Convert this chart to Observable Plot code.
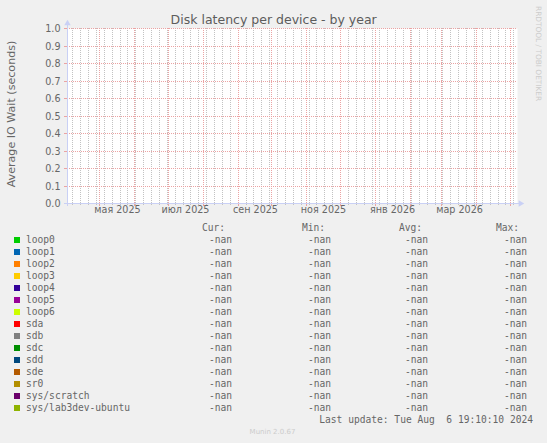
<!DOCTYPE html>
<html><head><meta charset="utf-8">
<script src="https://cdn.jsdelivr.net/npm/d3@7"></script>
<script src="https://cdn.jsdelivr.net/npm/@observablehq/plot@0.6"></script>
<style>
html,body{margin:0;padding:0;background:#f0f0f0;}
#wrap{position:relative;width:547px;height:443px;overflow:hidden;background:#f0f0f0;font-family:"DejaVu Sans",sans-serif;color:#666;}
#wrap svg{position:absolute;left:0;top:0;}
.abs{position:absolute;white-space:pre;}
.mono{font-family:"DejaVu Sans Mono",monospace;font-size:9.6px;line-height:12px;height:12px;color:#666;}
</style></head><body><div id="wrap"></div>
<script>
// ---- data ----
const title = "Disk latency per device - by year";
const yLabel = "Average IO Wait (seconds)";
const timeDomain = ["2025-04-02T08:00:00Z", "2026-05-07T08:00:00Z"];
const monthLabelDates = ["2025-05-16T12:00:00Z", "2025-07-16T12:00:00Z", "2025-09-16T00:00:00Z", "2025-11-16T00:00:00Z", "2026-01-16T12:00:00Z", "2026-03-16T12:00:00Z"];
const monthLabels = ["мая 2025", "июл 2025", "сен 2025", "ноя 2025", "янв 2026", "мар 2026"];
const yTicks = [0, 0.1, 0.2, 0.3, 0.4, 0.5, 0.6, 0.7, 0.8, 0.9, 1.0];
const devices = ["loop0", "loop1", "loop2", "loop3", "loop4", "loop5", "loop6", "sda", "sdb", "sdc", "sdd", "sde", "sr0", "sys/scratch", "sys/lab3dev-ubuntu"];
const colors = ["#00CC00", "#0066B3", "#FF8000", "#FFCC00", "#330099", "#990099", "#CCFF00", "#FF0000", "#808080", "#008F00", "#00487D", "#B35A00", "#B38F00", "#6B006B", "#8FB300"];
const curValues = ["-nan", "-nan", "-nan", "-nan", "-nan", "-nan", "-nan", "-nan", "-nan", "-nan", "-nan", "-nan", "-nan", "-nan", "-nan"];
const minValues = ["-nan", "-nan", "-nan", "-nan", "-nan", "-nan", "-nan", "-nan", "-nan", "-nan", "-nan", "-nan", "-nan", "-nan", "-nan"];
const avgValues = ["-nan", "-nan", "-nan", "-nan", "-nan", "-nan", "-nan", "-nan", "-nan", "-nan", "-nan", "-nan", "-nan", "-nan", "-nan"];
const maxValues = ["-nan", "-nan", "-nan", "-nan", "-nan", "-nan", "-nan", "-nan", "-nan", "-nan", "-nan", "-nan", "-nan", "-nan", "-nan"];
const columnHeaders = ["Cur:", "Min:", "Avg:", "Max:"];
const lastUpdate = "Last update: Tue Aug  6 19:10:10 2024";
const footer = "Munin 2.0.67";
const watermark = "RRDTOOL / TOBI OETIKER";

// ---- chart ----
const gridMinor = "#c2c2c2";
const gridMajor = "#eba3a3";
const axisColor = "#c9d0f5";
const x0 = new Date(timeDomain[0]), x1 = new Date(timeDomain[1]);
const monthTicks = d3.utcMonth.range(x0, x1);
const weekTicks = d3.utcMonday.range(x0, x1);
const labelRows = monthLabelDates.map((d, i) => ({date: new Date(d), label: monthLabels[i]}));

const chart = Plot.plot({
  width: 547, height: 225,
  marginLeft: 67, marginRight: 30, marginTop: 28, marginBottom: 22,
  style: {background: "transparent", overflow: "visible", fontFamily: "DejaVu Sans, sans-serif", color: "#666"},
  x: {type: "utc", domain: [x0, x1], round: true, axis: null},
  y: {domain: [0, 1], round: true, axis: null},
  marks: [
    Plot.frame({fill: "#ffffff", stroke: "none"}),
    Plot.ruleX(weekTicks, {stroke: gridMinor, strokeDasharray: "1,1"}),
    Plot.ruleX(monthTicks, {stroke: gridMajor, strokeDasharray: "1,1"}),
    Plot.ruleY(yTicks.filter(v => v > 0), {stroke: gridMajor, strokeDasharray: "1,1"}),
    Plot.axisX(weekTicks, {tickSize: 2, stroke: gridMinor, tickFormat: () => "", label: null}),
    Plot.axisX(monthTicks, {tickSize: 3, stroke: gridMajor, tickFormat: () => "", label: null}),
    Plot.text(labelRows, {x: "date", frameAnchor: "bottom", dy: 9.5, text: "label", fill: "#666", fontSize: 9.6}),
    Plot.axisY(yTicks, {tickSize: 3, tickPadding: 4, stroke: gridMajor, fill: "#666", fontSize: 9.6, tickFormat: d3.format(".1f"), label: null}),
    Plot.ruleY([0], {stroke: axisColor, insetLeft: -3, insetRight: -3}),
    Plot.ruleX([x0], {stroke: axisColor, insetTop: -4, insetBottom: -3}),
    Plot.dot([x1], {x: d => d, y: () => 0, symbol: "triangle", r: 2.4, rotate: 90, fill: axisColor, stroke: "none", dx: 3}),
    Plot.dot([x0], {x: d => d, y: () => 1, symbol: "triangle", r: 2.4, fill: axisColor, stroke: "none", dy: -5})
  ]
});

const wrap = document.getElementById("wrap");
wrap.appendChild(chart);

function addDiv(text, css, cls) {
  const d = document.createElement("div");
  d.className = "abs" + (cls ? " " + cls : "");
  d.textContent = text;
  d.style.cssText += css;
  wrap.appendChild(d);
  return d;
}

// title & side texts
addDiv(title, "left:273.7px;top:12px;transform:translateX(-50%);font-size:12.5px;line-height:15px;color:#5c5c5c;");
addDiv(yLabel, "left:10.5px;top:114px;transform:translate(-50%,-50%) rotate(-90deg);font-size:11.1px;line-height:13px;color:#666;");
addDiv(watermark, "left:534px;top:6px;writing-mode:vertical-rl;font-size:7.4px;line-height:8px;color:#cccccc;");

// legend
const valueRight = [232, 331, 428, 527];
const headerRight = [225, 325, 422, 519];
columnHeaders.forEach((h, j) => addDiv(h, `right:${547 - headerRight[j]}px;top:${228 - 6}px;text-align:right;`, "mono"));
const cols = [curValues, minValues, avgValues, maxValues];
devices.forEach((name, i) => {
  const cy = 240 + 12 * i;
  const sq = document.createElement("div");
  sq.style.cssText = `position:absolute;left:14px;top:${cy - 3}px;width:6px;height:6px;background:${colors[i]};`;
  wrap.appendChild(sq);
  addDiv(name, `left:26px;top:${cy - 6}px;`, "mono");
  cols.forEach((arr, j) => addDiv(arr[i], `right:${547 - valueRight[j]}px;top:${cy - 6}px;text-align:right;`, "mono"));
});
addDiv(lastUpdate, `right:${547 - 533}px;top:${419.5 - 6}px;text-align:right;`, "mono");
addDiv(footer, "left:272.5px;top:428px;transform:translateX(-50%);font-size:7px;line-height:8px;color:#cccccc;");
</script></body></html>
